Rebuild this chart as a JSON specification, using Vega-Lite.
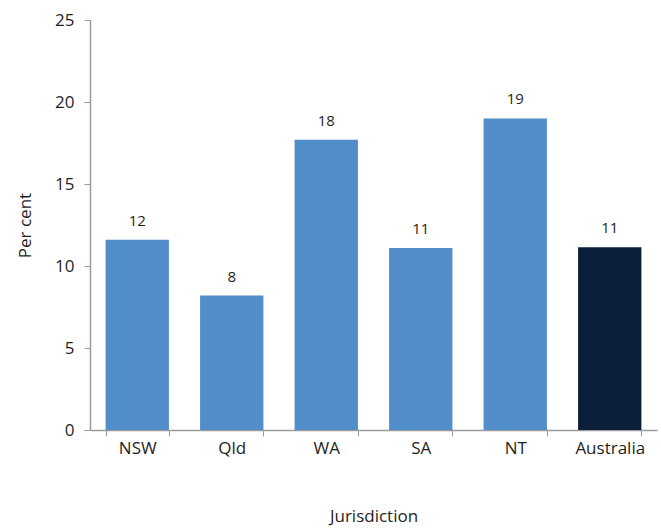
{
  "$schema": "https://vega.github.io/schema/vega-lite/v6.json",
  "width": 567,
  "height": 410,
  "autosize": {"type": "none"},
  "padding": {"left": 90, "top": 20, "right": 4, "bottom": 98},
  "background": "white",
  "config": {
    "view": {"stroke": null},
    "font": "Open Sans",
    "axis": {"grid": false, "domainColor": "#9a9a9a", "tickColor": "#9a9a9a", "labelColor": "#1e1e1e", "titleColor": "#1e1e1e", "labelFont": "Open Sans", "titleFont": "Open Sans", "titleFontWeight": "normal", "labelFontSize": 17, "titleFontSize": 17}
  },
  "data": {
    "values": [
      {"jurisdiction": "NSW", "value": 11.6, "group": "state"},
      {"jurisdiction": "Qld", "value": 8.2, "group": "state"},
      {"jurisdiction": "WA", "value": 17.7, "group": "state"},
      {"jurisdiction": "SA", "value": 11.1, "group": "state"},
      {"jurisdiction": "NT", "value": 19.0, "group": "state"},
      {"jurisdiction": "Australia", "value": 11.15, "group": "national"}
    ]
  },
  "encoding": {
    "x": {
      "field": "jurisdiction", "type": "nominal", "sort": null,
      "scale": {"paddingInner": 0.33, "paddingOuter": 0.165},
      "axis": {"title": "Jurisdiction", "labelAngle": 0, "tickBand": "extent", "tickSize": 6, "labelPadding": 4, "titlePadding": 52, "domainWidth": 1.5}
    },
    "y": {
      "field": "value", "type": "quantitative",
      "scale": {"domain": [0, 25]},
      "axis": {"title": "Per cent", "values": [0, 5, 10, 15, 20, 25], "tickSize": 6, "labelPadding": 10, "titlePadding": 20, "domainWidth": 1.5}
    }
  },
  "layer": [
    {
      "mark": {"type": "bar"},
      "encoding": {
        "color": {"field": "group", "type": "nominal", "scale": {"domain": ["state", "national"], "range": ["#508DC9", "#0B1F3A"]}, "legend": null}
      }
    },
    {
      "mark": {"type": "text", "baseline": "bottom", "dy": -11, "fontSize": 15, "color": "#1e1e1e", "font": "Open Sans"},
      "encoding": {
        "text": {"field": "value", "type": "quantitative", "format": ".0f"}
      }
    }
  ]
}
